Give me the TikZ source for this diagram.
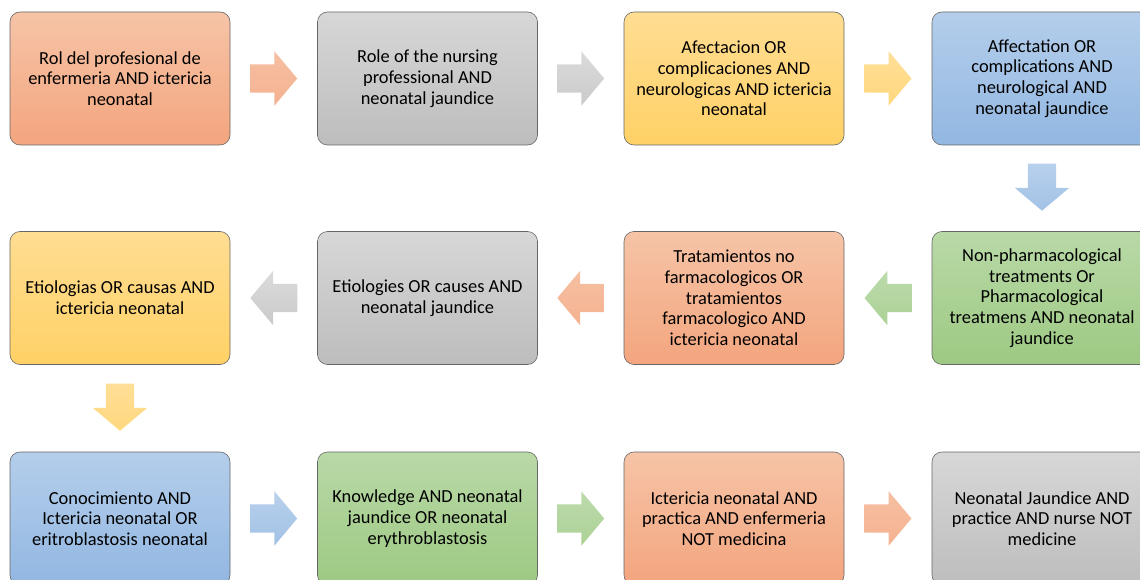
\documentclass[tikz,border=0pt]{standalone}
\usepackage{fontspec}
\setmainfont{Carlito}
\usepackage{tikz}
\usetikzlibrary{shapes.arrows, calc}
\definecolor{orgtop}{HTML}{F6C4A7}
\definecolor{orgbot}{HTML}{F3A57E}
\definecolor{graytop}{HTML}{D7D7D7}
\definecolor{graybot}{HTML}{BDBDBD}
\definecolor{yeltop}{HTML}{FFDD92}
\definecolor{yelbot}{HTML}{FFD166}
\definecolor{bluetop}{HTML}{B4CEEB}
\definecolor{bluebot}{HTML}{92B7E2}
\definecolor{grntop}{HTML}{B9D9A7}
\definecolor{grnbot}{HTML}{9DC983}

\begin{document}
\begin{tikzpicture}[x=1pt, y=1pt,
    box/.style={draw=black!60, line width=0.6pt, rounded corners=10pt,
                minimum width=220pt, minimum height=133pt, inner sep=0pt,
                align=center, text=black, font=\fontsize{18.4}{20.7}\selectfont},
    blockarrow/.style={single arrow, minimum height=47pt, minimum width=54pt,
                single arrow head extend=13pt, single arrow tip angle=100,
                inner xsep=0pt, inner ysep=14pt},
    rightarrow/.style={xshift=-6pt},
    downarrow/.style={shape border rotate=270, inner xsep=14pt, inner ysep=0pt, yshift=7pt},
    leftarrow/.style={shape border rotate=180, xshift=6pt},
    orangebox/.style={box, top color=orgtop, bottom color=orgbot},
    graybox/.style={box, top color=graytop, bottom color=graybot},
    yellowbox/.style={box, top color=yeltop, bottom color=yelbot},
    bluebox/.style={box, top color=bluetop, bottom color=bluebot},
    greenbox/.style={box, top color=grntop, bottom color=grnbot},
    orangearrow/.style={blockarrow, top color=orgtop!85!orgbot, bottom color=orgbot!85},
    grayarrow/.style={blockarrow, top color=graytop!90, bottom color=graybot!80},
    yellowarrow/.style={blockarrow, top color=yeltop!95, bottom color=yelbot!85},
    bluearrow/.style={blockarrow, top color=bluetop!95, bottom color=bluebot!85},
    greenarrow/.style={blockarrow, top color=grntop!95, bottom color=grnbot!85},
]
    \useasboundingbox (0,0) rectangle (1140,-580);

    % First row
    \node[orangebox] (rol) at (120,-78.5) {Rol del profesional de\\enfermeria AND ictericia\\neonatal};
    \node[graybox] (role) at (427.5,-78.5) {Role of the nursing\\professional AND\\neonatal jaundice};
    \node[yellowbox] (afect) at (734,-78.5) {Afectacion OR\\complicaciones AND\\neurologicas AND ictericia\\neonatal};
    \node[bluebox] (affect) at (1042,-78.5) {Affectation OR\\complications AND\\neurological AND\\neonatal jaundice};

    % Second row
    \node[greenbox] (nonpharm) at (1042,-298) {Non-pharmacological\\treatments Or\\Pharmacological\\treatmens AND neonatal\\jaundice};
    \node[orangebox] (tratam) at (734,-298) {Tratamientos no\\farmacologicos OR\\tratamientos\\farmacologico AND\\ictericia neonatal};
    \node[graybox] (etiologies) at (427.5,-298) {Etiologies OR causes AND\\neonatal jaundice};
    \node[yellowbox] (etiologias) at (120,-298) {Etiologias OR causas AND\\ictericia neonatal};

    % Third row
    \node[bluebox] (conoc) at (120,-518.5) {Conocimiento AND\\Ictericia neonatal OR\\eritroblastosis neonatal};
    \node[greenbox] (knowledge) at (427.5,-518.5) {Knowledge AND neonatal\\jaundice OR neonatal\\erythroblastosis};
    \node[orangebox] (ictpract) at (734,-518.5) {Ictericia neonatal AND\\practica AND enfermeria\\NOT medicina};
    \node[graybox] (jaundpract) at (1042,-518.5) {Neonatal Jaundice AND\\practice AND nurse NOT\\medicine};

    % Arrows
    \node[orangearrow, rightarrow] (a1) at ($(rol.east)!0.5!(role.west)$) {};
    \node[grayarrow, rightarrow] (a2) at ($(role.east)!0.5!(afect.west)$) {};
    \node[yellowarrow, rightarrow] (a3) at ($(afect.east)!0.5!(affect.west)$) {};
    \node[bluearrow, downarrow] (a4) at ($(affect.south)!0.5!(nonpharm.north)$) {};
    \node[greenarrow, leftarrow] (a5) at ($(nonpharm.west)!0.5!(tratam.east)$) {};
    \node[orangearrow, leftarrow] (a6) at ($(tratam.west)!0.5!(etiologies.east)$) {};
    \node[grayarrow, leftarrow] (a7) at ($(etiologies.west)!0.5!(etiologias.east)$) {};
    \node[yellowarrow, downarrow] (a8) at ($(etiologias.south)!0.5!(conoc.north)$) {};
    \node[bluearrow, rightarrow] (a9) at ($(conoc.east)!0.5!(knowledge.west)$) {};
    \node[greenarrow, rightarrow] (a10) at ($(knowledge.east)!0.5!(ictpract.west)$) {};
    \node[orangearrow, rightarrow] (a11) at ($(ictpract.east)!0.5!(jaundpract.west)$) {};
\end{tikzpicture}
\end{document}
